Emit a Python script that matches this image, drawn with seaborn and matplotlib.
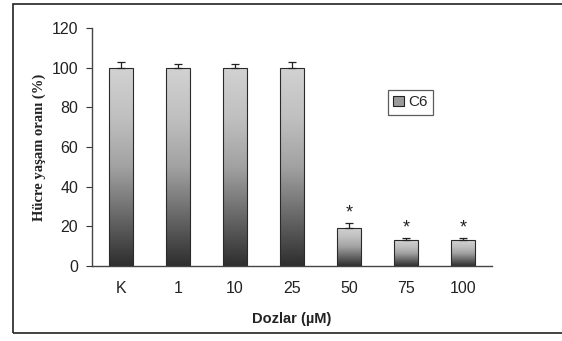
import numpy as np
import pandas as pd
import matplotlib
matplotlib.use("Agg")
import matplotlib.pyplot as plt
import seaborn as sns
from matplotlib.patches import Rectangle
from matplotlib.colors import LinearSegmentedColormap

categories = ["K", "1", "10", "25", "50", "75", "100"]
values = [100, 100, 100, 100, 19.3, 13.0, 13.0]
errors = [2.7, 2.0, 2.0, 2.7, 2.2, 1.0, 1.0]
significant = [False, False, False, False, True, True, True]
series_name = "C6"

df = pd.DataFrame({"Doz": categories, "Oran": values, "Seri": series_name})

sns.set_theme(style="white")
plt.rcParams["font.family"] = ["Liberation Sans", "DejaVu Sans"]

fig = plt.figure(figsize=(5.62, 3.41), dpi=100)
ax = fig.add_axes([92/562, 1-266/341, 400/562, 238/341])

sns.barplot(data=df, x="Doz", y="Oran", hue="Seri", order=categories,
            width=0.42, color="#999999", edgecolor="#2a2a2a", linewidth=0.8,
            errorbar=None, legend=False, ax=ax)

cmap = LinearSegmentedColormap.from_list(
    "g", [(0.0, "#2e2e2e"), (0.25, "#686868"), (0.5, "#a2a2a2"),
          (0.75, "#c0c0c0"), (1.0, "#d2d2d2")])
grad = np.linspace(0, 1, 256).reshape(-1, 1)
for p in ax.patches:
    x0, y0 = p.get_x(), p.get_y()
    w, h = p.get_width(), p.get_height()
    im = ax.imshow(grad, cmap=cmap, aspect="auto", origin="lower",
                   extent=[x0, x0 + w, y0, y0 + h], zorder=p.get_zorder() + 0.1)
    im.set_clip_path(p)
    p.set_facecolor("none")
    p.set_zorder(p.get_zorder() + 0.2)

xpos = np.arange(len(categories))
ax.errorbar(xpos, values, yerr=[np.zeros(len(values)), errors], fmt="none",
            ecolor="#222222", elinewidth=0.9, capsize=3, capthick=0.9, zorder=5)

for xi, v, e, s in zip(xpos, values, errors, significant):
    if s:
        ax.text(xi, v + e + 1.0, "*", ha="center", va="bottom", fontsize=13, color="#222222")

ax.set_xlim(-0.5, 6.5)
ax.set_ylim(0, 120)
ax.set_yticks(np.arange(0, 121, 20))
ax.tick_params(axis="y", direction="out", length=4, width=0.8, color="#333333",
               labelsize=11.5, pad=6, left=True)
ax.tick_params(axis="x", length=0, labelsize=11.5, pad=11)
for lab in ax.get_xticklabels() + ax.get_yticklabels():
    lab.set_color("#222222")

for s in ["top", "right"]:
    ax.spines[s].set_visible(False)
for s in ["left", "bottom"]:
    ax.spines[s].set_color("#444444")
    ax.spines[s].set_linewidth(1.0)

ax.set_xlabel("Dozlar (µM)", fontsize=10.5, fontweight="bold", color="#222222", labelpad=11)
ax.set_ylabel("Hücre yaşam oranı (%)", fontsize=10.5, fontweight="bold",
              family=["Liberation Serif", "DejaVu Serif"], color="#222222", labelpad=4)

# legend
handle = Rectangle((0, 0), 1, 1, facecolor="#9a9a9a", edgecolor="#222222", linewidth=0.8)
leg = ax.legend([handle], [series_name], loc="upper left",
                bbox_to_anchor=((388-92)/400, 1-(90-28)/238),
                frameon=True, fancybox=False, fontsize=11, handlelength=0.7,
                handleheight=0.7, handletextpad=0.3, borderpad=0.35, borderaxespad=0)
leg.get_frame().set_edgecolor("#333333")
leg.get_frame().set_linewidth(0.9)

# outer frame
fig.patches.append(Rectangle((13/562, 1-333/341), 1.0, (333-4)/341, transform=fig.transFigure,
                             fill=False, edgecolor="#222222", linewidth=1.2))

fig.savefig("out.png", dpi=100)
